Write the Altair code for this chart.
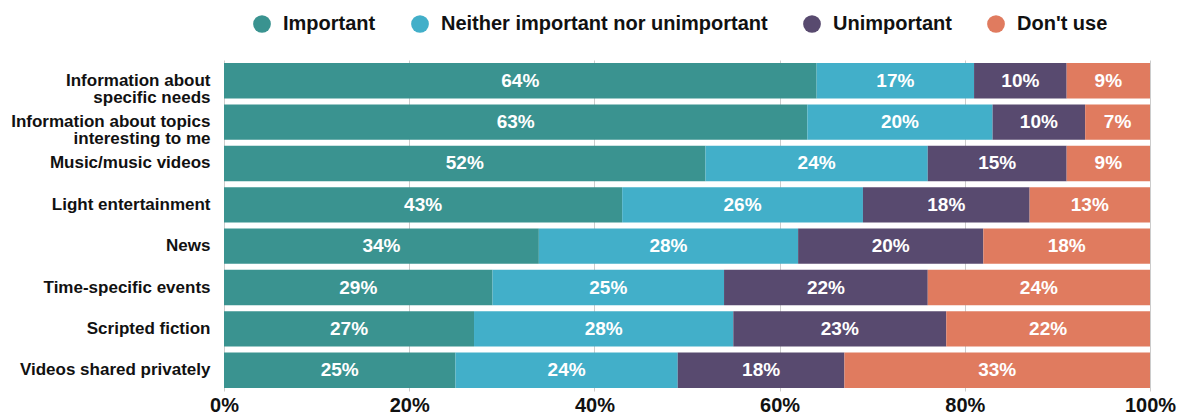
import altair as alt
import pandas as pd

categories = [
    "Information about|specific needs",
    "Information about topics|interesting to me",
    "Music/music videos",
    "Light entertainment",
    "News",
    "Time-specific events",
    "Scripted fiction",
    "Videos shared privately",
]
responses = ["Important", "Neither important nor unimportant", "Unimportant", "Don't use"]
important = [64, 63, 52, 43, 34, 29, 27, 25]
neither = [17, 20, 24, 26, 28, 25, 28, 24]
unimportant = [10, 10, 15, 18, 20, 22, 23, 18]
dont_use = [9, 7, 9, 13, 18, 24, 22, 33]
colors = ["#3a9390", "#42afc9", "#584a6f", "#e07b5f"]
x_ticks = [0, 20, 40, 60, 80, 100]

FONT = "Liberation Sans"

rows = []
for series_idx, (name, vals) in enumerate(zip(responses, [important, neither, unimportant, dont_use])):
    for cat, v in zip(categories, vals):
        rows.append({"category": cat, "response": name, "order": series_idx, "value": v})
df = pd.DataFrame(rows)

base = alt.Chart(df).transform_stack(
    stack="value",
    as_=["x0", "x1"],
    groupby=["category"],
    sort=[alt.SortField("order", order="ascending")],
).transform_calculate(
    mid="(datum.x0 + datum.x1) / 2",
    label="datum.value + '%'",
)

y_enc = alt.Y(
    "category:N",
    sort=categories,
    scale=alt.Scale(paddingInner=0.145, paddingOuter=0.075),
    axis=alt.Axis(
        title=None,
        labelExpr="split(datum.value, '|')",
        labelFont=FONT,
        labelFontSize=17,
        labelFontWeight="bold",
        labelColor="#111111",
        labelPadding=14,
        labelLineHeight=17,
        labelLimit=0,
        ticks=False,
        domain=False,
        grid=False,
    ),
)

bars = base.mark_bar().encode(
    x=alt.X(
        "x0:Q",
        scale=alt.Scale(domain=[0, 100], nice=False),
        axis=alt.Axis(
            title=None,
            values=x_ticks,
            labelExpr="datum.value + '%'",
            labelFont=FONT,
            labelFontSize=20,
            labelFontWeight="bold",
            labelColor="#111111",
            labelPadding=4,
            labelFlush=False,
            labelOverlap=False,
            ticks=False,
            domain=False,
            grid=True,
            gridColor="#cccccc",
            gridWidth=1,
        ),
    ),
    x2="x1:Q",
    y=y_enc,
    color=alt.Color(
        "response:N",
        sort=responses,
        scale=alt.Scale(domain=responses, range=colors),
        legend=alt.Legend(
            title=None,
            orient="none",
            direction="horizontal",
            legendX=28,
            legendY=-46,
            symbolType="circle",
            symbolSize=314,
            symbolStrokeWidth=0,
            symbolOpacity=1,
            labelFont=FONT,
            labelFontSize=20,
            labelFontWeight="bold",
            labelColor="#111111",
            labelOffset=11,
            labelLimit=0,
            columnPadding=34,
            padding=0,
        ),
    ),
    order=alt.Order("order:Q"),
)

texts = base.mark_text(
    color="white", font=FONT, fontSize=19, fontWeight="bold", align="center", baseline="middle"
).encode(
    x=alt.X("mid:Q"),
    y=alt.Y("category:N", sort=categories),
    text="label:N",
)

chart = (
    alt.layer(bars, texts)
    .properties(
        width=926,
        height=331,
        padding={"left": 224, "top": 60, "right": 37, "bottom": 23},
        autosize=alt.AutoSizeParams(type="none"),
    )
    .configure_view(stroke=None)
)

chart.save("out.html", embed_options={"renderer": "svg", "actions": False})
